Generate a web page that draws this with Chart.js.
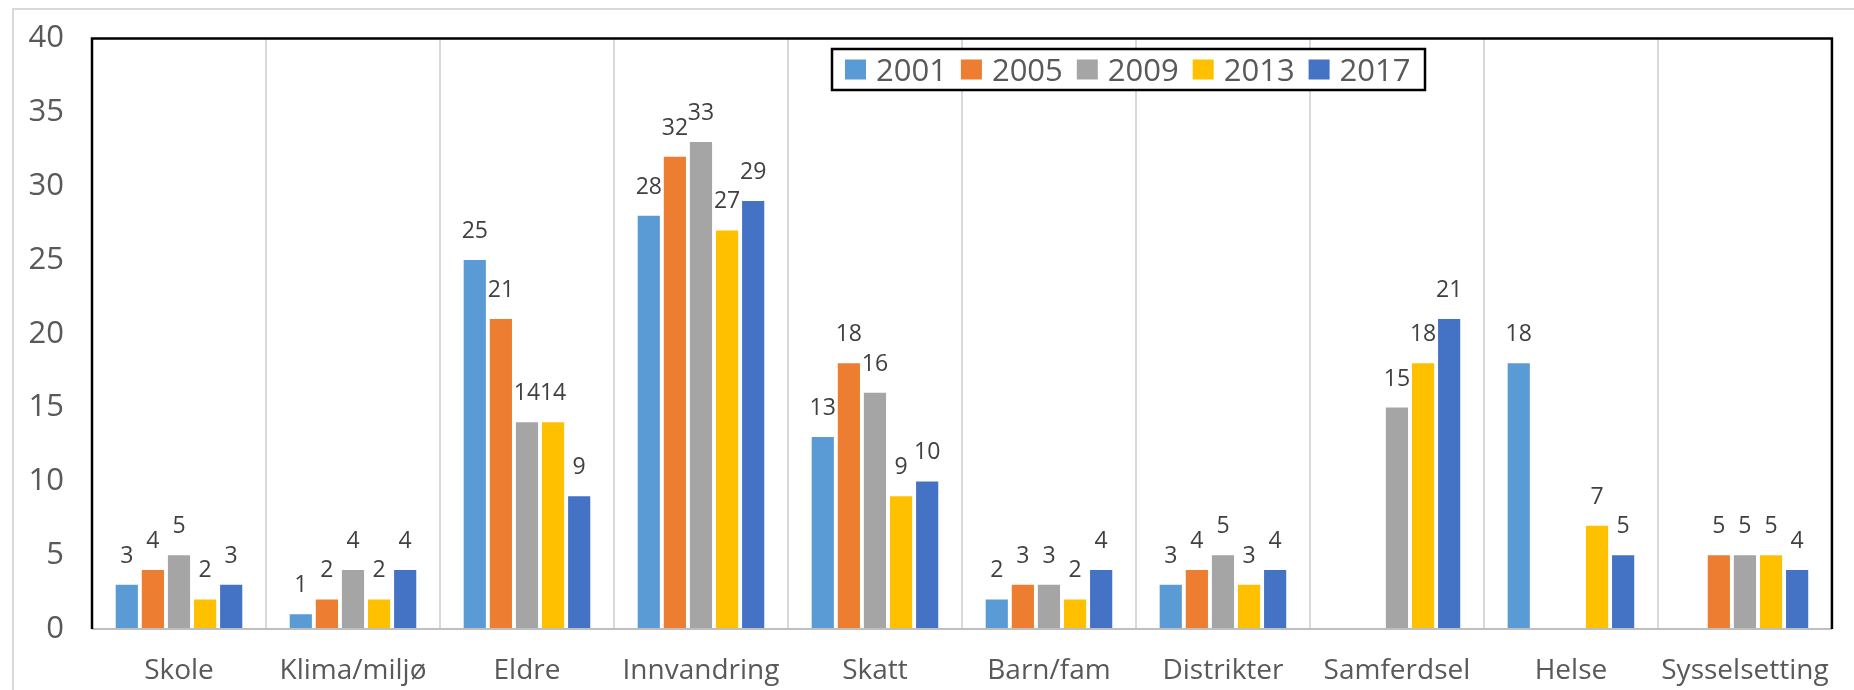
<!DOCTYPE html>
<html>
<head>
<meta charset="utf-8">
<script src="https://cdn.jsdelivr.net/npm/chart.js@4/dist/chart.umd.min.js"></script>
<style>
  html, body { margin: 0; padding: 0; background: #fff; }
  #wrap { position: relative; width: 1854px; height: 690px; overflow: hidden; }
  #frame { position: absolute; left: 12px; top: 8px; width: 1900px; height: 800px;
           border-left: 2px solid #d9d9d9; border-top: 2px solid #d9d9d9; box-sizing: border-box; }
  canvas { position: absolute; left: 0; top: 0; }
</style>
</head>
<body>
<div id="wrap">
  <div id="frame"></div>
  <canvas id="c" width="1854" height="690"></canvas>
</div>
<script>
const categories = ["Skole", "Klima/miljø", "Eldre", "Innvandring", "Skatt", "Barn/fam", "Distrikter", "Samferdsel", "Helse", "Sysselsetting"];
const seriesNames = ["2001", "2005", "2009", "2013", "2017"];
const v2001 = [3, 1, 25, 28, 13, 2, 3, null, 18, null];
const v2005 = [4, 2, 21, 32, 18, 3, 4, null, null, 5];
const v2009 = [5, 4, 14, 33, 16, 3, 5, 15, null, 5];
const v2013 = [2, 2, 14, 27, 9, 2, 3, 18, 7, 5];
const v2017 = [3, 4, 9, 29, 10, 4, 4, 21, 5, 4];
const yTicks = [0, 5, 10, 15, 20, 25, 30, 35, 40];
const colors = ["#5B9BD5", "#ED7D31", "#A5A5A5", "#FFC000", "#4472C4"];

const FONT = "'Open Sans', sans-serif";
const values = [v2001, v2005, v2009, v2013, v2017];

const datasets = seriesNames.map((n, i) => ({
  label: n,
  data: values[i],
  backgroundColor: colors[i],
  borderWidth: 0,
  barPercentage: 0.85,
  categoryPercentage: 0.75
}));

const labelPlugin = {
  id: 'labels',
  afterDatasetsDraw(chart) {
    const ctx = chart.ctx;
    ctx.save();
    ctx.font = "23px " + FONT;
    ctx.fillStyle = '#404040';
    ctx.textAlign = 'center';
    ctx.textBaseline = 'alphabetic';
    chart.data.datasets.forEach((ds, di) => {
      const meta = chart.getDatasetMeta(di);
      meta.data.forEach((bar, i) => {
        const v = ds.data[i];
        if (v === null || v === undefined) return;
        ctx.fillText(String(v), bar.x, bar.y - 22);
      });
    });
    ctx.restore();
  }
};

const framePlugin = {
  id: 'frame',
  afterDraw(chart) {
    const { ctx, chartArea: a } = chart;
    ctx.save();
    ctx.strokeStyle = '#bfbfbf';
    ctx.lineWidth = 2;
    ctx.beginPath();
    ctx.moveTo(a.left, a.bottom);
    ctx.lineTo(a.right, a.bottom);
    ctx.stroke();
    ctx.strokeStyle = '#000';
    ctx.lineWidth = 2.5;
    ctx.beginPath();
    ctx.moveTo(a.left, a.bottom);
    ctx.lineTo(a.left, a.top);
    ctx.lineTo(a.right, a.top);
    ctx.lineTo(a.right, a.bottom);
    ctx.stroke();

    // legend
    const lx = 832, ly = 49, lw = 593, lh = 41;
    ctx.fillStyle = '#fff';
    ctx.fillRect(lx, ly, lw, lh);
    ctx.strokeStyle = '#000';
    ctx.lineWidth = 2.5;
    ctx.strokeRect(lx, ly, lw, lh);
    ctx.font = "31px " + FONT;
    ctx.textBaseline = 'alphabetic';
    ctx.textAlign = 'left';
    let x = lx + 13;
    chart.data.datasets.forEach(ds => {
      ctx.fillStyle = ds.backgroundColor;
      ctx.fillRect(x, ly + lh / 2 - 10, 21, 20);
      x += 31;
      ctx.fillStyle = '#595959';
      ctx.fillText(ds.label, x, ly + lh / 2 + 11);
      x += ctx.measureText(ds.label).width + 14;
    });
    ctx.restore();
  }
};

new Chart(document.getElementById('c'), {
  type: 'bar',
  data: { labels: categories, datasets },
  options: {
    responsive: false,
    animation: false,
    layout: { padding: { left: 0, right: 8, top: 29, bottom: 0 } },
    plugins: { legend: { display: false }, tooltip: { enabled: false } },
    scales: {
      x: {
        grid: { display: true, offset: true, color: '#d9d9d9', lineWidth: 2, drawTicks: false },
        border: { display: false },
        ticks: { color: '#595959', font: { family: FONT, size: 28 }, padding: 25, maxRotation: 0, autoSkip: false },
        afterFit(s) { s.height = 61; }
      },
      y: {
        min: 0, max: 40,
        afterBuildTicks(s) { s.ticks = yTicks.map(v => ({ value: v })); },
        grid: { display: false },
        border: { display: false },
        ticks: { color: '#595959', font: { family: FONT, size: 31 }, padding: 20 },
        afterFit(s) { s.width = 92; }
      }
    }
  },
  plugins: [labelPlugin, framePlugin]
});
</script>
</body>
</html>
